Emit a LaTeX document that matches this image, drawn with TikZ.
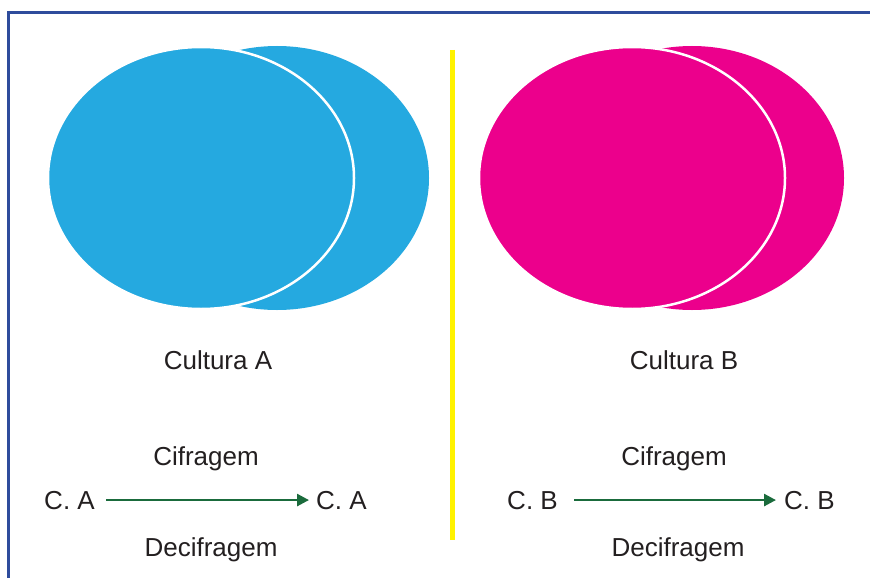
\documentclass[tikz,border=0pt]{standalone}
\usepackage{fontspec}
\setmainfont{Liberation Sans}
\definecolor{cyanA}{HTML}{25A9E0}
\definecolor{magB}{HTML}{EC008C}
\definecolor{yel}{HTML}{FFF200}
\definecolor{frameblue}{HTML}{2E4C9C}
\definecolor{txt}{HTML}{231F20}
\definecolor{arrgreen}{HTML}{1A6B3C}
\usetikzlibrary{arrows.meta}
\begin{document}
\begin{tikzpicture}[x=1pt,y=-1pt,
  lbl/.style={font=\fontsize{26}{30}\selectfont, text=txt, inner sep=0pt},
  flow/.style={draw=arrgreen, line width=2.6pt, -{Triangle[length=12pt,width=12pt]}},
  front/.style={line width=2.5pt, draw=white}]
\useasboundingbox (0,0) rectangle (870,578);
\fill[white] (0,0) rectangle (870,578);
% frame
\draw[frameblue, line width=3pt] (7,12.5) -- (870,12.5);
\draw[frameblue, line width=3pt] (8.5,11) -- (8.5,578);
% left ellipses
\fill[cyanA] (277,178) ellipse [x radius=152, y radius=132];
\filldraw[fill=cyanA, front] (201,178) ellipse [x radius=153, y radius=131];
% right ellipses
\fill[magB] (692,178) ellipse [x radius=152, y radius=132];
\filldraw[fill=magB, front] (632,178) ellipse [x radius=153, y radius=131];
% divider
\draw[yel, line width=5pt] (452,50) -- (452,540);
% labels
\node[lbl, anchor=base] (culA) at (218,369) {Cultura A};
\node[lbl, anchor=base] (culB) at (684,369) {Cultura B};
\node[lbl, anchor=base] (cifA) at (206,465) {Cifragem};
\node[lbl, anchor=base] (cifB) at (674,465) {Cifragem};
\node[lbl, anchor=base] (decA) at (211,556) {Decifragem};
\node[lbl, anchor=base] (decB) at (678,556) {Decifragem};
\node[lbl, anchor=base east] (a1) at (95,509) {C. A};
\node[lbl, anchor=base west] (a2) at (316,509) {C. A};
\node[lbl, anchor=base east] (b1) at (558,509) {C. B};
\node[lbl, anchor=base west] (b2) at (784,509) {C. B};
\draw[flow, shorten <=11pt, shorten >=7pt] (a1.east) -- (a2.west);
\draw[flow, shorten <=16pt, shorten >=8pt] (b1.east) -- (b2.west);
\end{tikzpicture}
\end{document}
